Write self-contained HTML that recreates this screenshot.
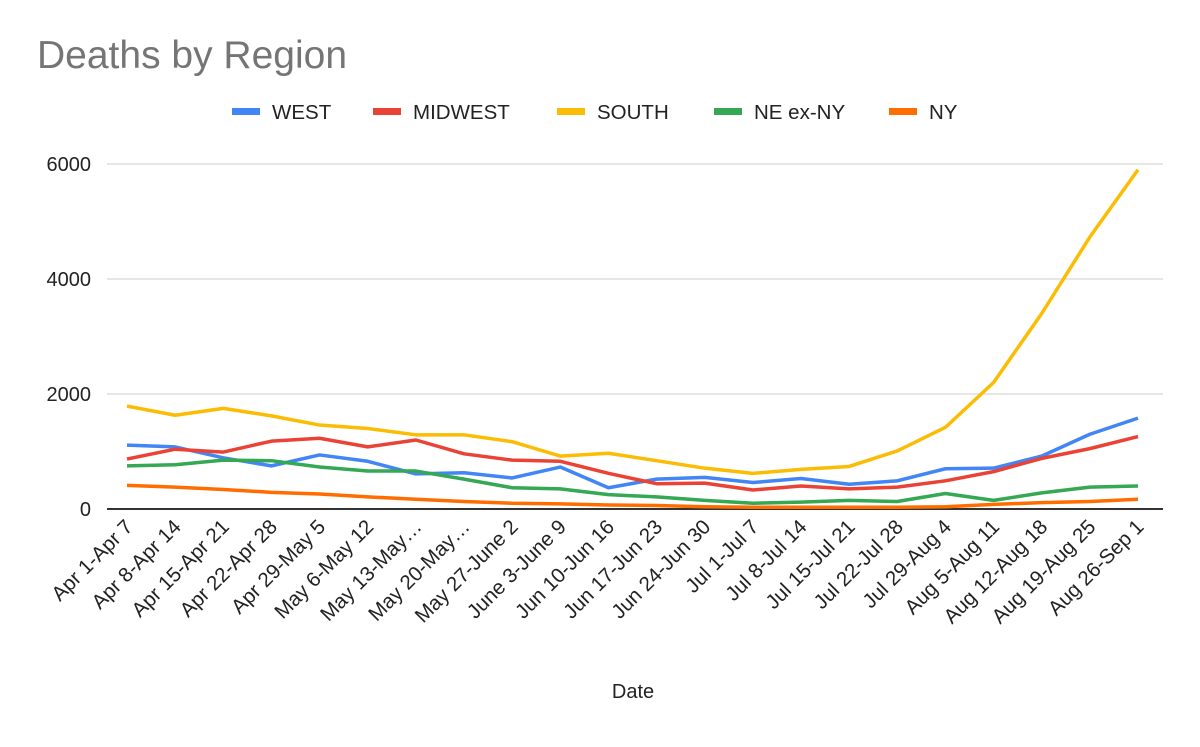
<!DOCTYPE html>
<html><head><meta charset="utf-8"><style>
body{margin:0;background:#fff;font-family:"Liberation Sans",Arial,sans-serif;}
svg text{font-family:"Liberation Sans",Arial,sans-serif;}
</style></head><body>
<svg id="chart" width="1200" height="742">
<rect width="1200" height="742" fill="#fff"/>
<text x="37" y="68" font-size="39" fill="#757575">Deaths by Region</text>
<g id="legend"></g>
<g id="grid"></g><g id="lines"></g><g id="xlabels"></g>
<text x="633" y="698" font-size="20" text-anchor="middle" fill="#222">Date</text>
</svg>
<script>
const categories=["Apr 1-Apr 7","Apr 8-Apr 14","Apr 15-Apr 21","Apr 22-Apr 28","Apr 29-May 5","May 6-May 12","May 13-May…","May 20-May…","May 27-June 2","June 3-June 9","Jun 10-Jun 16","Jun 17-Jun 23","Jun 24-Jun 30","Jul 1-Jul 7","Jul 8-Jul 14","Jul 15-Jul 21","Jul 22-Jul 28","Jul 29-Aug 4","Aug 5-Aug 11","Aug 12-Aug 18","Aug 19-Aug 25","Aug 26-Sep 1"];
const west=[1110,1080,890,750,940,830,610,630,540,730,370,520,550,460,530,430,490,700,710,920,1300,1580];
const midwest=[870,1040,990,1180,1230,1080,1200,960,850,830,620,440,450,330,400,350,380,490,650,880,1050,1260];
const south=[1790,1630,1750,1620,1460,1400,1290,1290,1170,920,970,840,710,620,690,740,1010,1420,2200,3400,4730,5900];
const neExNy=[750,770,850,840,730,660,660,520,370,350,250,210,150,100,120,150,130,270,150,280,380,400];
const ny=[410,380,340,290,260,210,170,130,100,90,70,60,40,30,30,30,30,40,80,110,130,170];
const yTicks=[0,2000,4000,6000];
const seriesNames=["WEST","MIDWEST","SOUTH","NE ex-NY","NY"];
const seriesColors=["#4285f4","#ea4335","#fbbc04","#34a853","#ff6d01"];
const NS="http://www.w3.org/2000/svg";
const x0=127,x1=1138,yBase=509,yTop=164,yMax=6000;
const xs=i=>x0+(x1-x0)*i/(categories.length-1);
const ys=v=>yBase-(yBase-yTop)*v/yMax;
function mk(t,a,p){const e=document.createElementNS(NS,t);for(const k in a)e.setAttribute(k,a[k]);p.appendChild(e);return e;}
const grid=document.getElementById('grid');
yTicks.forEach(v=>{
 const l=mk('line',{x1:107,x2:1163,y1:ys(v),y2:ys(v),stroke:v===0?'#333':'#ccc','stroke-width':v===0?2:1},grid);
 
 
 const t=mk('text',{x:91,y:ys(v)+7,'font-size':20,'text-anchor':'end',fill:'#222'},grid);
 t.textContent=v;
 
 
});
const data=[west,midwest,south,neExNy,ny];
const lines=document.getElementById('lines');
data.forEach((s,k)=>{
 const p=mk('polyline',{points:s.map((v,i)=>xs(i)+','+ys(v)).join(' '),fill:'none',stroke:seriesColors[k],'stroke-width':3.5,'stroke-linejoin':'round'},lines);
 
 
});
const xl=document.getElementById('xlabels');
categories.forEach((c,i)=>{
 const t=mk('text',{x:0,y:0,'font-size':20.5,'text-anchor':'end',fill:'#222',transform:`translate(${xs(i)+7},${528}) rotate(-45)`},xl);
 t.textContent=c;
 
 
});
const lg=document.getElementById('legend');
const lx=[232,373,557,714,889];
seriesNames.forEach((n,k)=>{
 const r=mk('rect',{x:lx[k],y:108,width:28,height:7,fill:seriesColors[k]},lg);
 
 
 const t=mk('text',{x:lx[k]+40,y:119,'font-size':20.5,fill:'#222'},lg);
 t.textContent=n;
 
 
});
</script>
</body></html>
